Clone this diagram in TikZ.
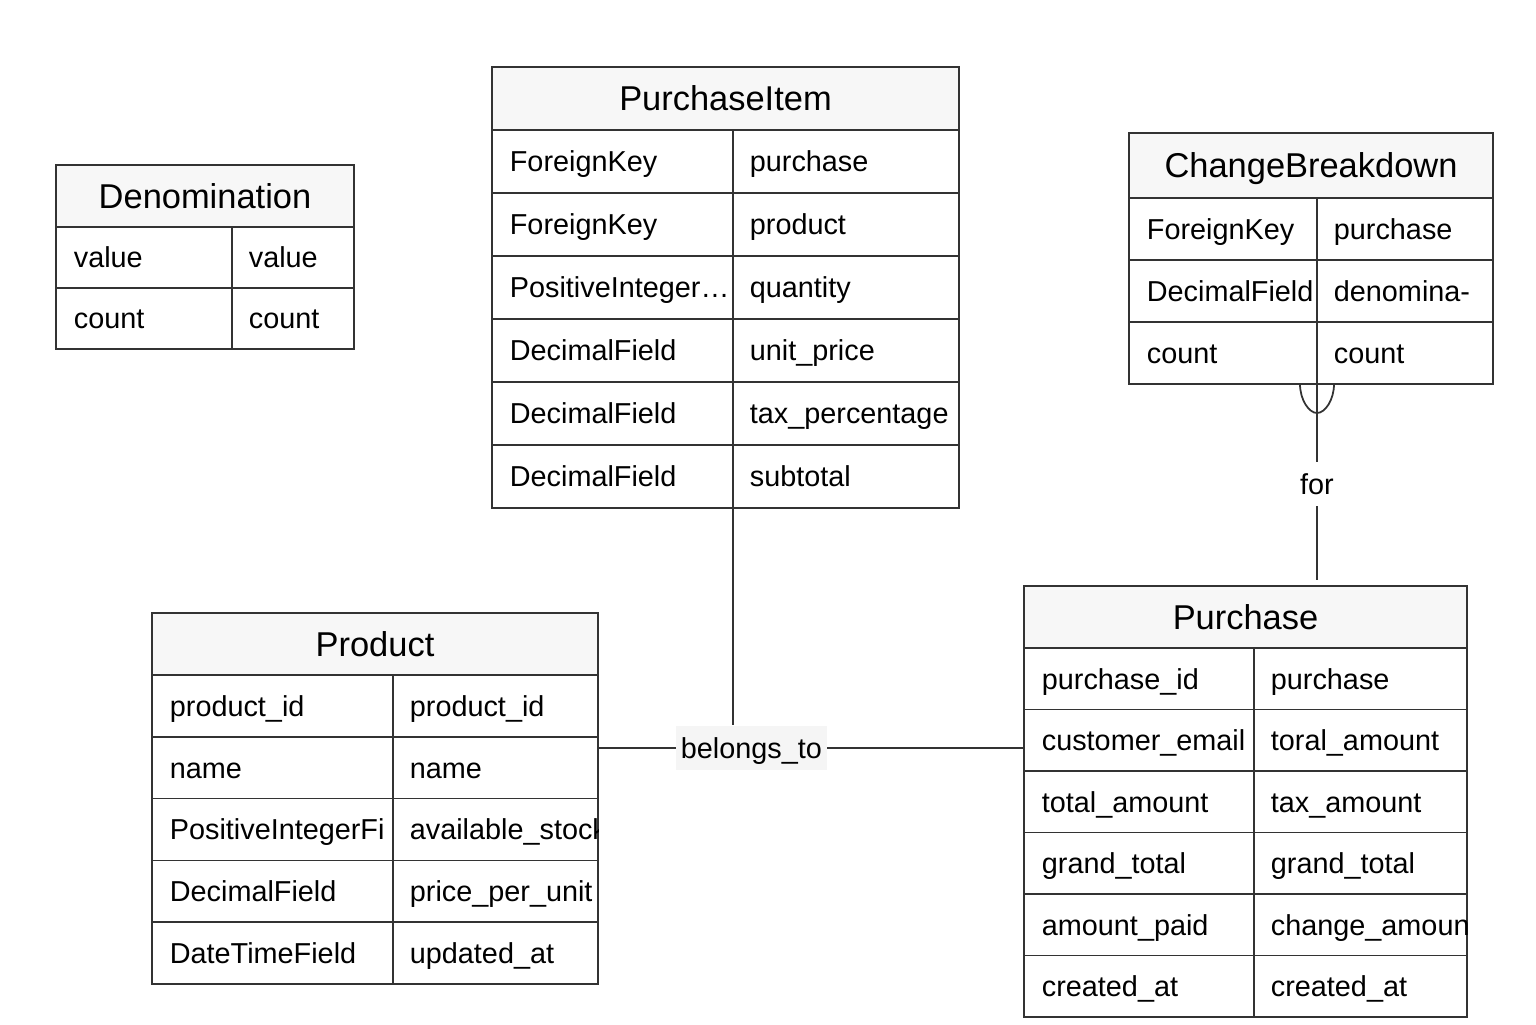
\documentclass[tikz,border=0pt]{standalone}
\usepackage{fontspec}
\setmainfont{Liberation Sans}
\usetikzlibrary{calc}

\newcommand{\erfieldfont}{\fontsize{8.2}{10}\selectfont}
\newcommand{\ertitlefont}{\fontsize{9.8}{12}\selectfont}

% #1 name, #2 title, #3 x, #4 y, #5 type width, #6 field width,
% #7 title height, #8 row height, #9 rows
\newcommand{\ertable}[9]{%
  \node[ertitle, minimum width={(#5+#6)*1cm}, minimum height=#7 cm, anchor=north west] (#1) at (#3,#4) {#2};
  \foreach \typ/\fld [count=\i] in {#9} {
    \node[ercell, minimum width=#5 cm, minimum height=#8 cm, anchor=north west] (#1-t\i) at ($(#1.south west)+(0,{(\i-1)*#8})$) {};
    \node[ercell, minimum width=#6 cm, minimum height=#8 cm, anchor=north west] (#1-f\i) at (#1-t\i.north east) {};
    \begin{scope}
      \clip (#1-t\i.south west) rectangle (#1-t\i.north east);
      \node[ertext] (#1-tt\i) at (#1-t\i.west) {\typ};
    \end{scope}
    \begin{scope}
      \clip (#1-f\i.south west) rectangle (#1-f\i.north east);
      \node[ertext, xshift=-0.01cm] (#1-ft\i) at (#1-f\i.west) {\fld};
    \end{scope}
  }%
}

\begin{document}
\begin{tikzpicture}[x=1cm,y=-1cm,
    line width=0.5pt,
    ertitle/.style={draw=black!80, fill=black!3, font=\ertitlefont, text height=7pt, text depth=0pt, inner sep=0pt, outer sep=0pt},
    ercell/.style={draw=black!80, inner sep=0pt, outer sep=0pt},
    ertext/.style={anchor=west, inner sep=0pt, xshift=0.17cm, font=\erfieldfont, text height=5.9pt, text depth=0pt},
    rel/.style={draw=black!80},
    rellabel/.style={font=\erfieldfont, text height=5.9pt, text depth=0pt, inner xsep=0.05cm, minimum height=0.33cm}]
  \useasboundingbox (0,0) rectangle (15.36,10.24);

  \ertable{den}{Denomination}{0.56}{1.65}{1.76}{1.22}{0.62}{0.61}
    {value/value, count/count}
  \ertable{pitem}{PurchaseItem}{4.92}{0.67}{2.41}{2.26}{0.63}{0.63}
    {ForeignKey/purchase, ForeignKey/product, PositiveInteger…/quantity,
     DecimalField/unit\_price, DecimalField/tax\_percentage, DecimalField/subtotal}
  \ertable{chg}{ChangeBreakdown}{11.29}{1.33}{1.88}{1.76}{0.65}{0.62}
    {ForeignKey/purchase, DecimalField/denomina-, count/count}
  \ertable{pur}{Purchase}{10.24}{5.86}{2.30}{2.13}{0.62}{0.615}
    {purchase\_id/purchase, customer\_email/toral\_amount, total\_amount/tax\_amount,
     grand\_total/grand\_total, amount\_paid/change\_amount, created\_at/created\_at}
  \ertable{prod}{Product}{1.52}{6.13}{2.41}{2.05}{0.62}{0.618}
    {product\_id/product\_id, name/name, PositiveIntegerFi/available\_stock,
     DecimalField/price\_per\_unit, DateTimeField/updated\_at}

  % belongs_to
  \coordinate (prod-out) at ($(prod-f1.south east)+(0,0.11)$);
  \path[rel] (prod-out) -- node[rellabel, fill=black!4, pos=0.36] (belongs) {belongs\_to} (pur-t2.west |- prod-out);
  \path[rel] (pitem-t6.south east) -- (pitem-t6.south east |- belongs.north);

  % for
  \coordinate (chg-foot) at (chg-t3.south east);
  \path[rel] (chg-foot) -- node[rellabel, fill=white, pos=0.51] (for) {for} ($(pur.north -| chg-foot)+(0,-0.06)$);
  \draw[black!80] ($(chg-foot)+(-0.17,0)$) .. controls +(0,0.16) and +(-0.08,0) .. ($(chg-foot)+(0,0.29)$)
    .. controls +(0.08,0) and +(0,0.16) .. ($(chg-foot)+(0.17,0)$);
\end{tikzpicture}
\end{document}
